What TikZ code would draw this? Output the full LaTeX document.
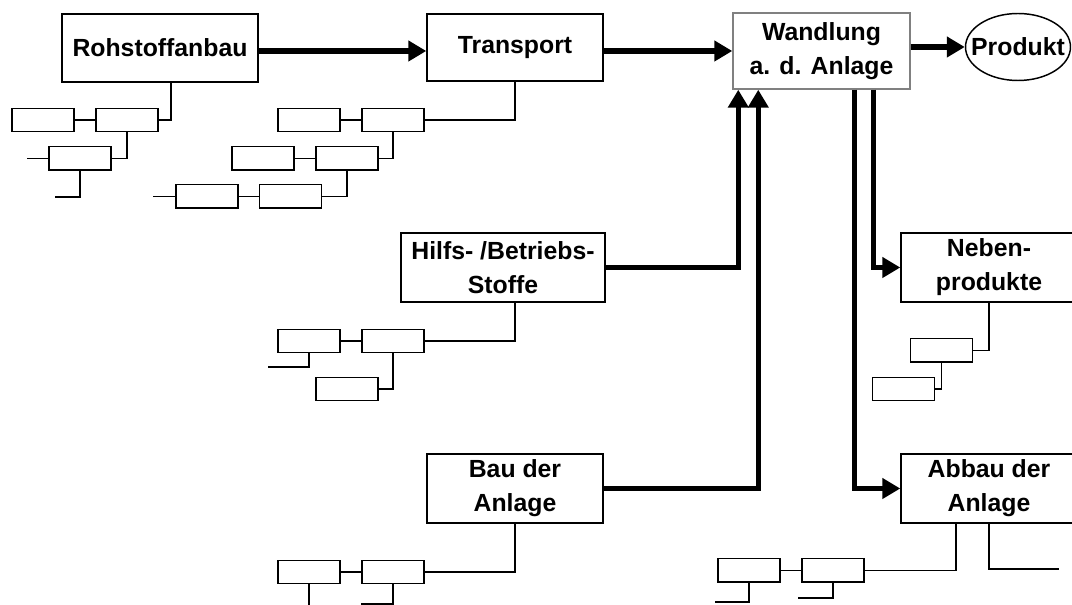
\documentclass[tikz,border=0pt]{standalone}
\usepackage{fontspec}
\setmainfont{Liberation Sans}
\usetikzlibrary{arrows.meta,shapes.geometric}

\begin{document}
\begin{tikzpicture}[x=0.75pt,y=-0.75pt,
    bigbox/.style={draw, line width=1.1pt, inner sep=0pt, align=center,
        font=\bfseries\fontsize{18.6}{25.5}\selectfont},
    smallbox/.style={draw, line width=1.1pt, inner sep=0pt,
        minimum width=46.5pt, minimum height=17.6pt},
    flow/.style={line width=4pt, -{Triangle[length=13.5pt,width=15pt]}},
    link/.style={line width=1.1pt}]
    \useasboundingbox (0,0) rectangle (1072,605);
    \clip (0,0) rectangle (1072,605);

    \node[bigbox, minimum width=147pt, minimum height=51pt] (roh) at (160,48) {Rohstoffanbau};
    \node[bigbox, minimum width=132pt, minimum height=50.25pt] (trans) at (515,47.5) {Transport};
    \node[bigbox, draw=gray, minimum width=132.75pt, minimum height=57pt] (wand) at (821.5,51) {Wandlung\\a. d. Anlage};
    \node[bigbox, ellipse, minimum width=78.75pt, minimum height=50.25pt] (prod) at (1018,47) {\makebox[0pt]{Produkt}};
    \node[bigbox, minimum width=153pt, minimum height=51.75pt] (hilfs) at (503,267.5) {Hilfs- /Betriebs-\\Stoffe};
    \node[bigbox, minimum width=132pt, minimum height=51.75pt] (bau) at (515,488.5) {Bau der\\Anlage};
    \node[bigbox, minimum width=132pt, minimum height=51.75pt] (neben) at (989,267.5) {Neben-\\produkte};
    \node[bigbox, minimum width=132pt, minimum height=51.75pt] (abbau) at (989,488.5) {Abbau der\\Anlage};

    \node[smallbox] (r1) at (43,120) {};
    \node[smallbox] (r2) at (127,120) {};
    \node[smallbox] (r3) at (80,158.5) {};
    \node[smallbox] (t1) at (309,120) {};
    \node[smallbox] (t2) at (393,120) {};
    \node[smallbox] (t3) at (263,158.5) {};
    \node[smallbox] (t4) at (347,158.5) {};
    \node[smallbox] (t5) at (207,196.5) {};
    \node[smallbox] (t6) at (290.5,196.5) {};
    \node[smallbox] (h1) at (309,341) {};
    \node[smallbox] (h2) at (393,341) {};
    \node[smallbox] (h3) at (347,389) {};
    \node[smallbox] (b1) at (309,572) {};
    \node[smallbox] (b2) at (393,572) {};
    \node[smallbox] (n1) at (941.5,350.5) {};
    \node[smallbox] (n2) at (903.5,389) {};
    \node[smallbox] (a1) at (749,570.5) {};
    \node[smallbox] (a2) at (833,570.5) {};

    \coordinate (r3in) at (27,158.5);
    \coordinate (r3out) at (55,197);
    \coordinate (t5in) at (153,196.5);
    \coordinate (h1out) at (268,367);
    \coordinate (b1out) at (309,606);
    \coordinate (b2out) at (361,604);
    \coordinate (abbout) at (1059,569);
    \coordinate (a1out) at (715,602);
    \coordinate (a2out) at (798,598);

    \draw[link] (r1) -- (r2);
    \draw[link] ([shift={(11,0)}]roh.south) |- (r2.east);
    \draw[link] (r2.south) |- (r3.east);
    \draw[link] (r3in) -- (r3.west);
    \draw[link] (r3.south) |- (r3out);

    \draw[link] (t1) -- (t2);
    \draw[link] (trans.south) |- (t2.east);
    \draw[link] (t3) -- (t4);
    \draw[link] (t2.south) |- (t4.east);
    \draw[link] (t5) -- (t6);
    \draw[link] (t4.south) |- (t6.east);
    \draw[link] (t5in) -- (t5.west);

    \draw[link] (h1) -- (h2);
    \draw[link] ([shift={(12,0)}]hilfs.south) |- (h2.east);
    \draw[link] (h2.south) |- (h3.east);
    \draw[link] (h1.south) |- (h1out);

    \draw[link] (b1) -- (b2);
    \draw[link] (bau.south) |- (b2.east);
    \draw[link] (b1.south) -- (b1out);
    \draw[link] (b2.south) |- (b2out);

    \draw[link] (neben.south) |- (n1.east);
    \draw[link] (n1.south) |- (n2.east);

    \draw[link] (a1) -- (a2);
    \draw[link] ([shift={(-33,0)}]abbau.south) |- (a2.east);
    \draw[link] (abbau.south) |- (abbout);
    \draw[link] (a1.south) |- (a1out);
    \draw[link] (a2.south) |- (a2out);

    \draw[flow] ([shift={(0,3)}]roh.east) -- ([shift={(0,3)}]roh.east -| trans.west);
    \draw[flow] (wand.west -| trans.east) -- (wand.west);
    \draw[flow] (prod.west -| wand.east) -- (prod.west);
    \draw[flow] (hilfs.east) -| ([shift={(6,0)}]wand.south west);
    \draw[flow] (bau.east) -| ([shift={(26,0)}]wand.south west);
    \draw[flow] ([shift={(-37,0)}]wand.south east) |- (neben.west);
    \draw[flow] ([shift={(-56,0)}]wand.south east) |- (abbau.west);
\end{tikzpicture}
\end{document}
